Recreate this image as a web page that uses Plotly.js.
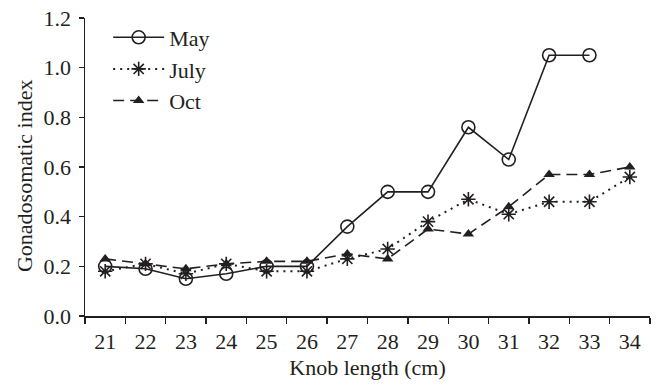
<!DOCTYPE html>
<html>
<head>
<meta charset="utf-8">
<script src="https://cdn.plot.ly/plotly-3.0.1.min.js"></script>
<style>html,body{margin:0;padding:0;background:#fff;}#chart{width:659px;height:385px;}</style>
</head>
<body>
<div id="chart"></div>
<script>
const knobLength = ["21","22","23","24","25","26","27","28","29","30","31","32","33","34"];
const mayGSI  = [0.20, 0.19, 0.15, 0.17, 0.20, 0.20, 0.36, 0.50, 0.50, 0.76, 0.63, 1.05, 1.05, null];
const julyGSI = [0.18, 0.21, 0.17, 0.21, 0.18, 0.18, 0.23, 0.27, 0.38, 0.47, 0.41, 0.46, 0.46, 0.56];
const octGSI  = [0.23, 0.21, 0.19, 0.21, 0.22, 0.22, 0.25, 0.23, 0.35, 0.33, 0.44, 0.57, 0.57, 0.60];
const yTicks = [0, 0.2, 0.4, 0.6, 0.8, 1.0, 1.2];
const yTickText = ["0.0","0.2","0.4","0.6","0.8","1.0","1.2"];

const ink = "#231f20";
const font = {family: "Liberation Serif, Times New Roman, serif", size: 22, color: ink};

const traces = [
  {x: knobLength, y: mayGSI, name: "May", legendgroup: "a", type: "scatter", mode: "lines+markers",
   line: {color: ink, width: 1.6, dash: "solid"},
   marker: {symbol: "circle-open", size: 13, color: ink, line: {width: 1.6, color: ink}}},
  {x: knobLength, y: julyGSI, name: "July", legendgroup: "b", type: "scatter", mode: "lines+markers",
   line: {color: ink, width: 2, dash: "2px,5px"},
   marker: {symbol: "asterisk-open", size: 12, color: ink, line: {width: 1.6, color: ink}}},
  {x: knobLength, y: octGSI, name: "Oct", legendgroup: "c", type: "scatter", mode: "lines+markers",
   line: {color: ink, width: 1.6, dash: "11px,6px"},
   marker: {symbol: "triangle-up", size: 10, color: ink}}
];

const baseX = {type: "category", categoryorder: "array", categoryarray: knobLength,
  range: [-0.5, knobLength.length - 0.5], tickson: "boundaries", showgrid: false, zeroline: false};

const layout = {
  width: 659, height: 385,
  margin: {l: 85, r: 9, t: 18, b: 69},
  paper_bgcolor: "#fff", plot_bgcolor: "#fff",
  font: font,
  showlegend: true,
  legend: {x: 0.041, y: 1.005, xanchor: "left", yanchor: "top", bgcolor: "rgba(0,0,0,0)",
    font: font, tracegroupgap: 0, itemwidth: 51},
  xaxis: Object.assign({}, baseX, {
    showline: true, linecolor: ink, linewidth: 1.5,
    ticks: "outside", ticklen: 6, tickwidth: 1.3, tickcolor: ink,
    ticklabelstandoff: 5, tickfont: font,
    title: {text: "Knob length (cm)", font: font, standoff: 6}
  }),
  xaxis2: Object.assign({}, baseX, {
    overlaying: "x", matches: "x", anchor: "y", side: "bottom",
    showline: false, ticks: "inside", ticklen: 6, tickwidth: 1.3, tickcolor: ink,
    showticklabels: false
  }),
  yaxis: {
    range: [0, 1.2], tickvals: yTicks, ticktext: yTickText, showgrid: false, zeroline: false,
    showline: true, linecolor: ink, linewidth: 1.5,
    ticks: "outside", ticklen: 5, tickwidth: 1.3, tickcolor: ink, tickfont: font,
    ticklabelstandoff: 3
  },
  yaxis2: {
    overlaying: "y", matches: "y", anchor: "x", side: "left",
    range: [0, 1.2], tickvals: yTicks, showgrid: false, zeroline: false, showline: false,
    ticks: "inside", ticklen: 5, tickwidth: 1.3, tickcolor: ink, showticklabels: false
  },
  annotations: [{
    text: "Gonadosomatic index", textangle: -90, showarrow: false,
    xref: "paper", yref: "paper", x: -0.106, y: 0.47, xanchor: "center", yanchor: "middle",
    font: font
  }]
};

Plotly.newPlot("chart", traces, layout, {displayModeBar: false, staticPlot: true});
</script>
</body>
</html>
